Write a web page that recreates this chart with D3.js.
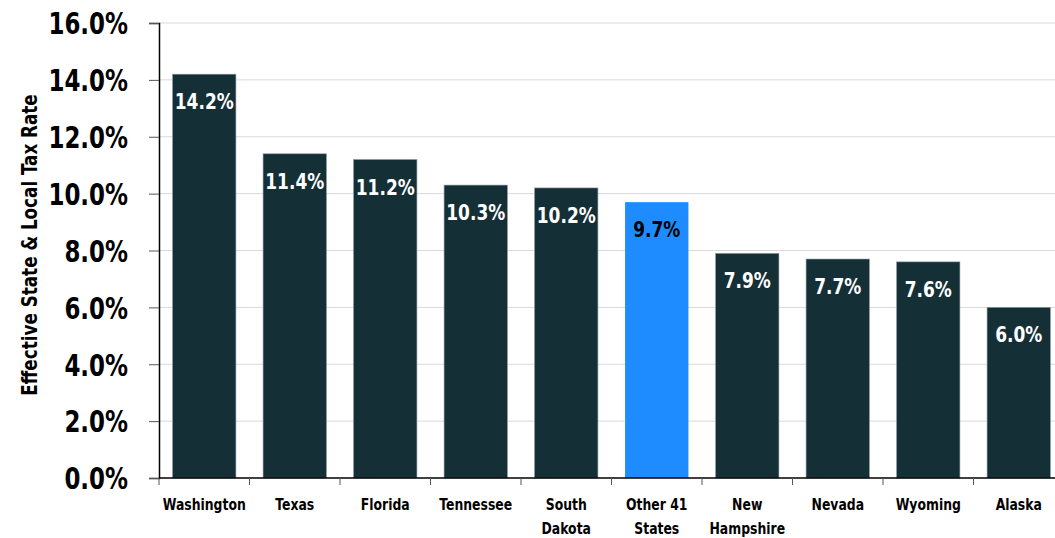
<!DOCTYPE html>
<html><head><meta charset="utf-8">
<script src="https://cdn.jsdelivr.net/npm/d3@7"></script>
<style>
body{margin:0;background:#fff;}
text{font-family:"DejaVu Sans Condensed","DejaVu Sans",sans-serif;font-weight:bold;}
</style></head>
<body><svg id="c" width="1055" height="538"></svg>
<script>
const categories = ["Washington","Texas","Florida","Tennessee","South Dakota","Other 41 States","New Hampshire","Nevada","Wyoming","Alaska"];
const categoryLines = [["Washington"],["Texas"],["Florida"],["Tennessee"],["South","Dakota"],["Other 41","States"],["New","Hampshire"],["Nevada"],["Wyoming"],["Alaska"]];
const values = [14.2,11.4,11.2,10.3,10.2,9.7,7.9,7.7,7.6,6.0];
const highlight = ["Other 41 States"];
const yTicks = [0,2,4,6,8,10,12,14,16];

const svg = d3.select("#c");
const x = d3.scaleBand().domain(categories).range([159,1064]).paddingInner(0.3).paddingOuter(0.15);
const y = d3.scaleLinear().domain([0,16]).range([478,23]);

function squeeze(sel, sx){
  sel.each(function(){
    const t=d3.select(this);
    const px=+(t.attr("x")||0), py=+(t.attr("y")||0);
    t.attr("x",null).attr("y",null)
     .attr("transform",`translate(${px},${py}) scale(${sx},1)`);
  });
}

// gridlines
svg.append("g").selectAll("line").data(yTicks.filter(d=>d>0)).join("line")
  .attr("x1",159).attr("x2",1055).attr("y1",d=>y(d)).attr("y2",d=>y(d))
  .attr("stroke","#d9d9d9").attr("stroke-width",1);

// bars
svg.append("g").selectAll("rect").data(categories).join("rect")
  .attr("x",d=>x(d)).attr("width",x.bandwidth())
  .attr("y",(d,i)=>y(values[i])).attr("height",(d,i)=>y(0)-y(values[i]))
  .attr("fill",d=>highlight.includes(d)?"#1e8cff":"#152f37")
  .attr("stroke",d=>highlight.includes(d)?"none":"#8a9aa0").attr("stroke-width",0.6);

// value labels
const vl = svg.append("g").selectAll("text").data(categories).join("text")
  .attr("x",d=>x(d)+x.bandwidth()/2).attr("y",(d,i)=>y(values[i])+35)
  .attr("text-anchor","middle").attr("font-size",22)
  .attr("fill",d=>highlight.includes(d)?"#000":"#fff")
  .text((d,i)=>values[i].toFixed(1)+"%");
squeeze(vl,0.86);

// y axis
const yAxis = d3.axisLeft(y).tickValues(yTicks).tickFormat(d=>d.toFixed(1)+"%").tickSize(10).tickPadding(21);
const gy = svg.append("g").attr("transform","translate(159,0)").call(yAxis);
gy.select(".domain").attr("stroke","#000").attr("stroke-width",1.5);
gy.selectAll(".tick line").attr("stroke","#555");
const yt = gy.selectAll(".tick text").attr("font-size",30).attr("fill","#000")
  .attr("font-family",'"DejaVu Sans Condensed","DejaVu Sans",sans-serif').attr("font-weight","bold")
  .attr("dy","0.36em");
squeeze(yt,0.85);

// x axis
const xb = d3.scaleBand().domain(categories).range([159,1064]);
const gx = svg.append("g").attr("transform","translate(0,478)");
gx.append("line").attr("x1",159).attr("x2",1055).attr("y1",0).attr("y2",0).attr("stroke","#000").attr("stroke-width",1.5);
gx.selectAll("line.t").data(categories).join("line").attr("class","t")
  .attr("x1",d=>xb(d)).attr("x2",d=>xb(d)).attr("y1",0).attr("y2",7).attr("stroke","#555");
const xl = gx.selectAll("text").data(categories).join("text")
  .attr("text-anchor","middle").attr("font-size",15).attr("fill","#000")
  .attr("transform",d=>`translate(${xb(d)+xb.bandwidth()/2},32) scale(0.92,1)`);
xl.each(function(d,i){
  const t=d3.select(this);
  categoryLines[i].forEach((l,j)=>t.append("tspan").attr("x",0).attr("y",j*24).text(l));
});

// y title
svg.append("text").attr("transform","translate(37,245) rotate(-90) scale(0.89,1)")
  .attr("text-anchor","middle").attr("font-size",21).attr("fill","#000")
  .text("Effective State & Local Tax Rate");
</script></body></html>
